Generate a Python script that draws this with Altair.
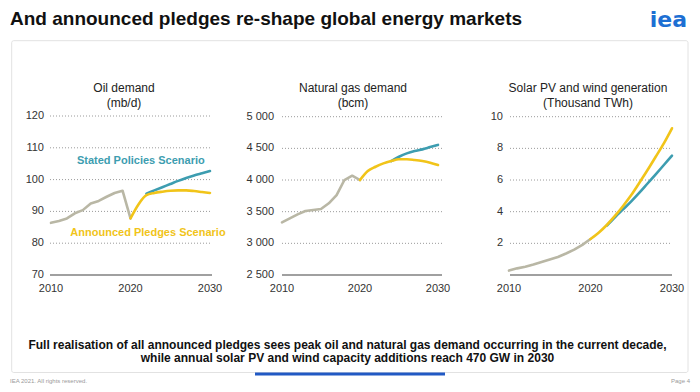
import altair as alt
import pandas as pd

FONT = "Liberation Sans"

# ---------------- data ----------------
hist_years = list(range(2010, 2021))
proj_years = list(range(2020, 2031))

oil_hist = [86.4, 87.0, 87.8, 89.4, 90.4, 92.5, 93.3, 94.6, 95.8, 96.5, 87.8]
oil_aps = [87.8, 92.2, 95.1, 95.8, 96.2, 96.5, 96.6, 96.6, 96.4, 96.1, 95.8]
oil_steps_years = list(range(2022, 2031))
oil_steps = [95.6, 96.6, 97.6, 98.6, 99.6, 100.5, 101.3, 102.0, 102.7]

gas_hist = [3332, 3395, 3458, 3510, 3526, 3542, 3632, 3763, 4000, 4068, 4000]
gas_aps = [4000, 4142, 4210, 4263, 4300, 4327, 4327, 4316, 4300, 4274, 4237]
gas_steps_years = list(range(2024, 2031))
gas_steps = [4300, 4368, 4421, 4458, 4484, 4520, 4555]

re_hist = [0.28, 0.42, 0.52, 0.66, 0.82, 0.98, 1.14, 1.36, 1.60, 1.90, 2.27]
re_aps = [2.27, 2.67, 3.16, 3.73, 4.36, 5.05, 5.83, 6.63, 7.47, 8.32, 9.27]
re_steps_years = list(range(2022, 2031))
re_steps = [3.12, 3.65, 4.15, 4.65, 5.20, 5.78, 6.36, 6.95, 7.54]

x_ticks = [2010, 2020, 2030]

oil_ticks = [70, 80, 90, 100, 110, 120]
oil_tick_labels = ["70", "80", "90", "100", "110", "120"]
gas_ticks = [2500, 3000, 3500, 4000, 4500, 5000]
gas_tick_labels = ["2 500", "3 000", "3 500", "4 000", "4 500", "5 000"]
re_ticks = [2, 4, 6, 8, 10]
re_tick_labels = ["2", "4", "6", "8", "10"]

oil_title = ["Oil demand", "(mb/d)"]
gas_title = ["Natural gas demand", "(bcm)"]
re_title = ["Solar PV and wind generation", "(Thousand TWh)"]

scenario_names = ["Stated Policies Scenario", "Announced Pledges Scenario"]

main_title = "And announced pledges re-shape global energy markets"
footer_lines = [
    "Full realisation of all announced pledges sees peak oil and natural gas demand occurring in the current decade,",
    "while annual solar PV and wind capacity additions reach 470 GW in 2030",
]

GRAY = "#b9b7a5"
TEAL = "#3d9db0"
YELLOW = "#f1c419"

one = alt.Data(values=[{}])


def panel(xr, yd, yr, grid_x, lab_x, ticks, labels, grid_ticks, hist, aps, steps_years, steps, title, title_x, extra=None):
    xs = alt.Scale(domain=[2010, 2030], range=xr)
    ys = alt.Scale(domain=yd, range=yr)

    grid = alt.Chart(pd.DataFrame({"v": grid_ticks})).mark_rule(
        color="#9a9a9a", strokeDash=[1, 2], strokeWidth=1
    ).encode(y=alt.Y("v:Q", scale=ys, axis=None), x=alt.value(grid_x[0]), x2=alt.value(grid_x[1]))

    base = alt.Chart(pd.DataFrame({"v": [yd[0]]})).mark_rule(
        color="#808080", strokeWidth=1.5
    ).encode(y=alt.Y("v:Q", scale=ys, axis=None), x=alt.value(grid_x[0]), x2=alt.value(grid_x[1]))

    ylab = alt.Chart(pd.DataFrame({"v": ticks, "t": labels})).mark_text(
        align="right", baseline="middle", font=FONT, fontSize=11, color="#333333"
    ).encode(y=alt.Y("v:Q", scale=ys, axis=None), x=alt.value(lab_x), text="t:N")

    xlab = alt.Chart(pd.DataFrame({"yr": x_ticks})).mark_text(
        align="center", baseline="middle", font=FONT, fontSize=11, color="#333333"
    ).encode(x=alt.X("yr:Q", scale=xs, axis=None), y=alt.value(281), text=alt.Text("yr:Q", format="d"))

    def line(years, vals, color, interp):
        return alt.Chart(pd.DataFrame({"yr": years, "v": vals})).mark_line(
            color=color, strokeWidth=2.6, interpolate=interp, strokeCap="round", strokeJoin="round"
        ).encode(x=alt.X("yr:Q", scale=xs, axis=None), y=alt.Y("v:Q", scale=ys, axis=None))

    l_hist = line(hist_years, hist, GRAY, "linear")
    l_steps = line(steps_years, steps, TEAL, "monotone")
    l_aps = line(proj_years, aps, YELLOW, "monotone")

    t1 = alt.Chart(one).mark_text(font=FONT, fontSize=12, color="#222222", align="center", baseline="middle").encode(
        x=alt.value(title_x), y=alt.value(79.5), text=alt.value(title[0]))
    t2 = alt.Chart(one).mark_text(font=FONT, fontSize=12, color="#222222", align="center", baseline="middle").encode(
        x=alt.value(title_x), y=alt.value(95), text=alt.value(title[1]))

    layers = [grid, base, ylab, xlab, l_hist, l_steps, l_aps, t1, t2]
    if extra is not None:
        for e in extra:
            layers.append(e(xs, ys))
    return alt.layer(*layers)


# scenario annotation positions (in data units of the oil panel)
label_pos = [(2021.3, 105.8), (2022.2, 83.2)]
label_colors = [TEAL, YELLOW]


def make_label(i):
    def f(xs, ys):
        return alt.Chart(pd.DataFrame({"yr": [label_pos[i][0]], "v": [label_pos[i][1]], "t": [scenario_names[i]]})).mark_text(
            font=FONT, fontSize=11, fontWeight="bold", color=label_colors[i], align="center", baseline="middle"
        ).encode(x=alt.X("yr:Q", scale=xs, axis=None), y=alt.Y("v:Q", scale=ys, axis=None), text="t:N")
    return f


oil = panel([43, 202], [70, 120], [267, 108], [42, 204], 36, oil_ticks, oil_tick_labels, oil_ticks[1:],
            oil_hist, oil_aps, oil_steps_years, oil_steps, oil_title, 116,
            extra=[make_label(0), make_label(1)])
gas = panel([274, 430], [2500, 5000], [267, 108.7], [274, 434], 266, gas_ticks, gas_tick_labels, gas_ticks[1:],
            gas_hist, gas_aps, gas_steps_years, gas_steps, gas_title, 345)
ren = panel([501, 664], [0, 10], [267, 108.7], [502, 664], 495, re_ticks, re_tick_labels, re_ticks,
            re_hist, re_aps, re_steps_years, re_steps, re_title, 580)

box = alt.Chart(one).mark_rect(fill="white", stroke="#e2e2e2", strokeWidth=1, cornerRadius=2).encode(
    x=alt.value(3.7), x2=alt.value(680), y=alt.value(32.7), y2=alt.value(364.5))

title = alt.Chart(one).mark_text(font=FONT, fontSize=19, fontWeight="bold", color="#111111",
                                 align="left", baseline="alphabetic").encode(
    x=alt.value(2), y=alt.value(17), text=alt.value(main_title))

logo = alt.Chart(one).mark_text(font="DejaVu Sans", fontSize=22, fontWeight="bold", color="#1d6fd3",
                                align="right", baseline="middle").encode(
    x=alt.value(679), y=alt.value(12), text=alt.value("iea"))

foot1 = alt.Chart(one).mark_text(font=FONT, fontSize=12, fontWeight="bold", color="#111111",
                                 align="center", baseline="middle").encode(
    x=alt.value(339.5), y=alt.value(336.5), text=alt.value(footer_lines[0]))
foot2 = alt.Chart(one).mark_text(font=FONT, fontSize=12, fontWeight="bold", color="#111111",
                                 align="center", baseline="middle").encode(
    x=alt.value(339.5), y=alt.value(350), text=alt.value(footer_lines[1]))

bar = alt.Chart(one).mark_rect(color="#2159c4").encode(
    x=alt.value(247), x2=alt.value(437), y=alt.value(364.5), y2=alt.value(367.5))

small1 = alt.Chart(one).mark_text(font=FONT, fontSize=6, color="#9a9a9a", align="left", baseline="bottom").encode(
    x=alt.value(2), y=alt.value(376), text=alt.value("IEA 2021. All rights reserved."))
small2 = alt.Chart(one).mark_text(font=FONT, fontSize=6, color="#9a9a9a", align="right", baseline="bottom").encode(
    x=alt.value(682), y=alt.value(376), text=alt.value("Page 4"))

chart = alt.layer(box, title, logo, oil, gas, ren, foot1, foot2, bar, small1, small2).resolve_scale(
    x="independent", y="independent"
).properties(
    width=684, height=376, autosize=alt.AutoSizeParams(type="none"), padding=0, background="white"
).configure_view(stroke=None)

chart.save("out.html", embed_options={"renderer": "svg", "actions": False})
